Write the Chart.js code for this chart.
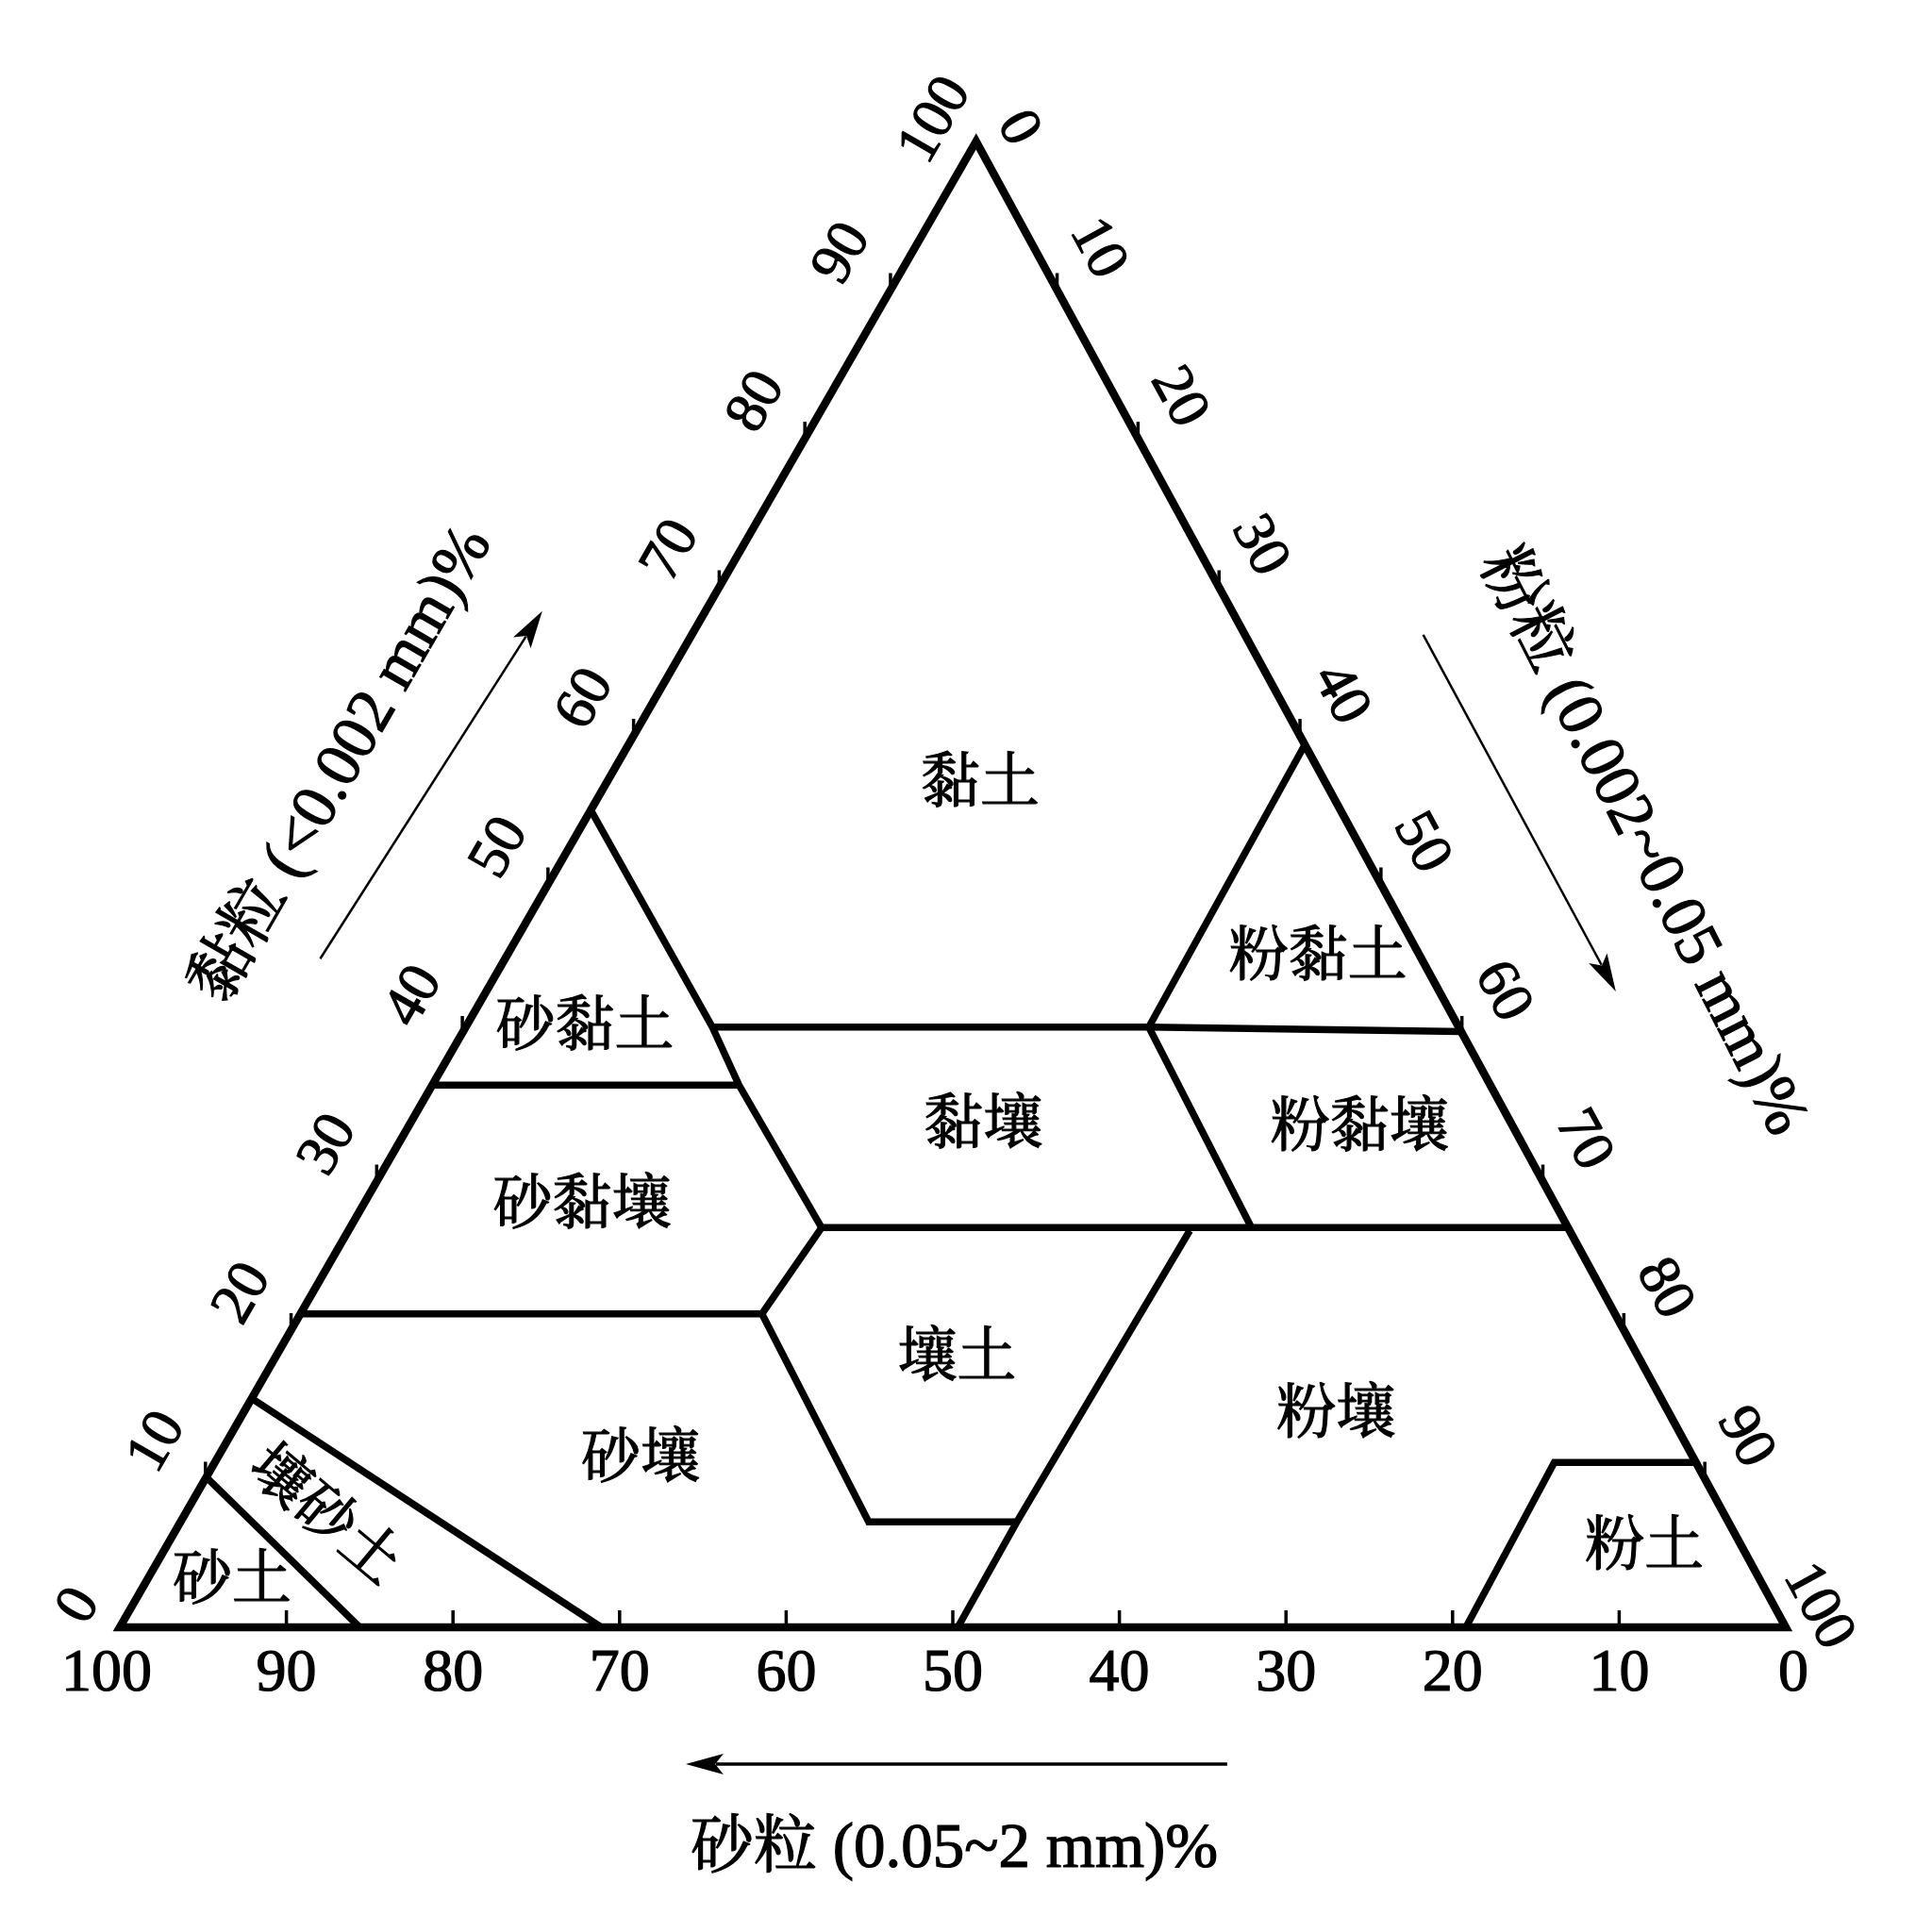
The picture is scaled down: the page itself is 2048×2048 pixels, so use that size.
<!DOCTYPE html>
<html lang="zh">
<head>
<meta charset="UTF-8">
<title>土壤质地三角图</title>
<script src="https://cdn.jsdelivr.net/npm/chart.js"></script>
<style>
    html, body { margin: 0; padding: 0; background: #fff; }
    #wrap { width: 2048px; height: 2048px; }
</style>
</head>
<body>
<div id="wrap"><canvas id="tri" width="2048" height="2048"></canvas></div>
<script>
// 刻度值
const tickValues = [0, 10, 20, 30, 40, 50, 60, 70, 80, 90, 100];

// 质地名称及标注点 (粉粒%, 黏粒%)
const textureNames = ['黏土', '粉黏土', '砂黏土', '黏壤', '粉黏壤', '砂黏壤', '壤土', '粉壤', '砂壤', '壤砂土', '砂土', '粉土'];
const labelSilt = [22.5, 48.8, 7.2, 34.5, 57.2, 13.2, 41.0, 65.7, 25.5, 8.4, 5.2, 88.8];
const labelClay = [56.7, 45.0, 40.3, 33.7, 33.5, 28.3, 18.0, 14.2, 11.2, 7.4, 3.0, 5.3];

// 分界线: [粉粒%, 黏粒%]
const outline = [[50, 0], [100, 0], [0, 100], [0, 0], [50, 0]];
const sand45Line = [[0, 55], [14.8, 40.4], [18.4, 36.5], [28.3, 26.9]];
const clay40Line = [[14.8, 40.4], [41, 40.4], [59.9, 40.1]];
const siltyClayLeft = [[40.6, 59.4], [41, 40.4], [54.1, 26.9]];
const sandyClayBase = [[0, 36.5], [18.4, 36.5]];
const clay27Line = [[28.3, 26.9], [54.1, 26.9], [73.1, 26.9]];
const clay20Line = [[0, 21.1], [27.7, 21.1], [28.3, 26.9]];
const loamBase = [[27.7, 21.1], [41.3, 7.1], [50.2, 7.1]];
const silt50Line = [[50.5, 26.7], [50.2, 7.1], [50.3, 0]];
const siltBox = [[80.8, 0], [80.4, 11.1], [88.9, 11.1]];
const sandLine = [[0, 10.1], [14.4, 0]];
const loamySandLine = [[0, 15.4], [28.9, 0]];

const boundaryLines = [outline, sand45Line, clay40Line, siltyClayLeft, sandyClayBase, clay27Line,
    clay20Line, loamBase, silt50Line, siltBox, sandLine, loamySandLine];

// 原图略微倾斜, 顶点不在底边正中
const SKEW = 0.514;
const toPoint = p => ({ x: p[0] + SKEW * p[1], y: p[1] });

const NUM_FAMILY = '"Liberation Serif", serif';
const TXT_FAMILY = '"Liberation Serif", "Noto Serif CJK SC", "Noto Sans CJK SC", serif';
const DEG = Math.PI / 180;

function drawText(ctx, str, x, y, angle, font) {
    ctx.save();
    ctx.translate(x, y);
    ctx.rotate(angle);
    ctx.font = font;
    ctx.fillStyle = '#000';
    ctx.strokeStyle = '#000';
    ctx.lineWidth = 1.2;
    ctx.textAlign = 'center';
    ctx.textBaseline = 'middle';
    ctx.fillText(str, 0, 0);
    ctx.strokeText(str, 0, 0);
    ctx.restore();
}

function drawArrow(ctx, a, b, width) {
    const ang = Math.atan2(b.y - a.y, b.x - a.x);
    const len = 40, half = 11;
    const c = Math.cos(ang), s = Math.sin(ang);
    ctx.save();
    ctx.strokeStyle = '#000';
    ctx.fillStyle = '#000';
    ctx.lineWidth = width;
    ctx.beginPath();
    ctx.moveTo(a.x, a.y);
    ctx.lineTo(b.x - c * len * 0.8, b.y - s * len * 0.8);
    ctx.stroke();
    ctx.beginPath();
    ctx.moveTo(b.x, b.y);
    ctx.lineTo(b.x - c * len - s * half, b.y - s * len + c * half);
    ctx.lineTo(b.x - c * len * 0.78, b.y - s * len * 0.78);
    ctx.lineTo(b.x - c * len + s * half, b.y - s * len - c * half);
    ctx.closePath();
    ctx.fill();
    ctx.restore();
}

const trianglePlugin = {
    id: 'triangleText',
    afterDatasetsDraw(chart) {
        const ctx = chart.ctx;
        const xs = chart.scales.x, ys = chart.scales.y;
        const px = (silt, clay) => ({ x: xs.getPixelForValue(silt + SKEW * clay), y: ys.getPixelForValue(clay) });

        const bl = px(0, 0), br = px(100, 0), top = px(0, 100);
        const angL = Math.atan2(top.y - bl.y, top.x - bl.x);
        const angR = Math.atan2(br.y - top.y, br.x - top.x);
        const nL = { x: Math.sin(angL), y: -Math.cos(angL) }, uL = { x: Math.cos(angL), y: Math.sin(angL) };
        const nR = { x: Math.sin(angR), y: -Math.cos(angR) }, uR = { x: Math.cos(angR), y: Math.sin(angR) };

        // 刻度线 (短竖线)
        ctx.save();
        ctx.strokeStyle = '#000';
        ctx.lineWidth = 3.5;
        tickValues.slice(1, -1).forEach(v => {
            [px(v, 0), px(0, v), px(v, 100 - v)].forEach(p => {
                ctx.beginPath();
                ctx.moveTo(p.x, p.y);
                ctx.lineTo(p.x, p.y - 18);
                ctx.stroke();
            });
        });
        ctx.restore();

        // 刻度标签
        tickValues.forEach(v => {
            const end = v === 0 || v === 100;
            // 底边: 砂粒
            const b = px(v, 0);
            const shift = v === 0 ? -14 : (v === 100 ? 8 : 0);
            drawText(ctx, String(100 - v), b.x + shift, b.y + 50, 0, '64px ' + NUM_FAMILY);
            // 左边: 黏粒
            const l = px(0, v);
            const ln = end ? 48 : 63, la = end ? -2 : 8;
            drawText(ctx, String(v), l.x + nL.x * ln + uL.x * la, l.y + nL.y * ln + uL.y * la, angL, '62px ' + NUM_FAMILY);
            // 右边: 粉粒
            const r = px(v, 100 - v);
            const rn = v === 0 ? 45 : (v === 100 ? 40 : 58);
            const ra = v === 0 ? 9 : (v === 100 ? -3 : -18);
            drawText(ctx, String(v), r.x + nR.x * rn + uR.x * ra, r.y + nR.y * rn + uR.y * ra, angR, '62px ' + NUM_FAMILY);
        });

        // 质地名称
        textureNames.forEach((name, i) => {
            const p = px(labelSilt[i], labelClay[i]);
            const rot = name === '壤砂土' ? 40 * DEG : 0;
            drawText(ctx, name, p.x, p.y, rot, '63px ' + TXT_FAMILY);
        });

        // 坐标轴标题
        const lt = px(-16.4, 58.0);
        drawText(ctx, '黏粒 (<0.002 mm)%', lt.x, lt.y, -60 * DEG, '68px ' + TXT_FAMILY);
        const rt = px(64.2, 52.8);
        drawText(ctx, '粉粒 (0.002~0.05 mm)%', rt.x, rt.y, 63 * DEG, '68px ' + TXT_FAMILY);
        const bt = px(57.8, -15.0);
        drawText(ctx, '砂粒 (0.05~2 mm)%', bt.x, bt.y, 0, '67px ' + TXT_FAMILY);

        // 方向箭头
        drawArrow(ctx, px(-11.1, 45.0), px(-9.8, 68.4), 2.5);
        drawArrow(ctx, px(43.9, 66.8), px(67.8, 42.8), 2.5);
        drawArrow(ctx, px(71.2, -9.2), px(38.7, -9.2), 3.5);
    }
};

const datasets = boundaryLines.map((line, i) => ({
    data: line.map(toPoint),
    showLine: true,
    borderColor: '#000',
    borderWidth: i === 0 ? 8.5 : 7.5,
    pointRadius: 0,
    pointHoverRadius: 0,
    borderJoinStyle: 'miter',
    borderCapStyle: 'butt',
    tension: 0,
    fill: false,
    clip: false
}));

new Chart(document.getElementById('tri').getContext('2d'), {
    type: 'scatter',
    data: { datasets: datasets },
    options: {
        responsive: false,
        animation: false,
        devicePixelRatio: 1,
        layout: { padding: { left: 127, right: 155, top: 150, bottom: 323 } },
        scales: {
            x: { type: 'linear', min: 0, max: 100, display: false },
            y: { type: 'linear', min: 0, max: 100, display: false }
        },
        plugins: {
            legend: { display: false },
            tooltip: { enabled: false }
        },
        events: []
    },
    plugins: [trianglePlugin]
});
</script>
</body>
</html>
